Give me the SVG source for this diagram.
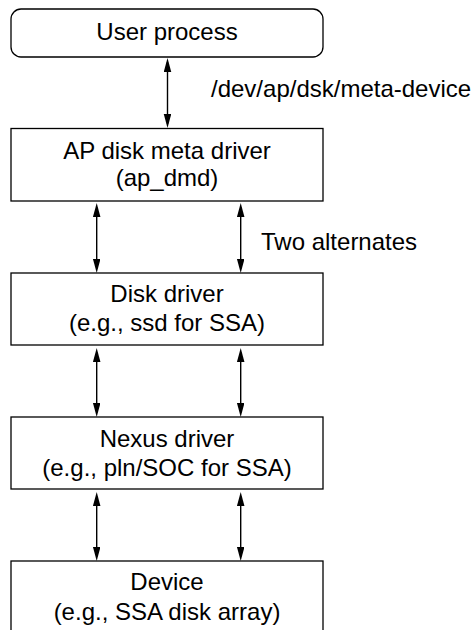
<svg xmlns="http://www.w3.org/2000/svg" width="474" height="630" viewBox="0 0 474 630">
  <style>
    .box { fill: #ffffff; stroke: #000000; stroke-width: 1.3; }
    .lbl { font-family: "Liberation Sans", Arial, Helvetica, sans-serif; font-size: 24px; fill: #000000; }
    .mid { text-anchor: middle; }
    .conn { stroke: #000000; stroke-width: 1.4; fill: none; marker-start: url(#head); marker-end: url(#head); }
  </style>
  <defs>
    <marker id="head" markerUnits="userSpaceOnUse" markerWidth="15" markerHeight="9" refX="10" refY="3.75" orient="auto-start-reverse">
      <path d="M0,0 L14,3.75 L0,7.5 z" fill="#000000"/>
    </marker>
  </defs>
  <rect width="474" height="630" fill="#ffffff"/>

  <!-- driver stack -->
  <g id="user-process">
    <rect class="box" x="11" y="9" width="312" height="48" rx="10" ry="10"/>
    <text class="lbl mid" x="167" y="40">User process</text>
  </g>
  <g id="ap-dmd">
    <rect class="box" x="11" y="128.5" width="312" height="72.5"/>
    <text class="lbl mid" x="167" y="159">AP disk meta driver</text>
    <text class="lbl mid" x="167" y="186">(ap_dmd)</text>
  </g>
  <g id="disk-driver">
    <rect class="box" x="11" y="273" width="312" height="72"/>
    <text class="lbl mid" x="167" y="302">Disk driver</text>
    <text class="lbl mid" x="167" y="331">(e.g., ssd for SSA)</text>
  </g>
  <g id="nexus-driver">
    <rect class="box" x="11" y="417" width="312" height="72"/>
    <text class="lbl mid" x="167" y="446.5">Nexus driver</text>
    <text class="lbl mid" x="167" y="476">(e.g., pln/SOC for SSA)</text>
  </g>
  <g id="device">
    <rect class="box" x="11" y="561" width="312" height="80"/>
    <text class="lbl mid" x="167" y="590">Device</text>
    <text class="lbl mid" x="167" y="620">(e.g., SSA disk array)</text>
  </g>

  <!-- bidirectional connectors -->
  <g id="connectors">
    <line class="conn" x1="167.5" y1="62" x2="167.5" y2="124"/>
    <line class="conn" x1="96.7" y1="207" x2="96.7" y2="269"/>
    <line class="conn" x1="240.7" y1="207" x2="240.7" y2="269"/>
    <line class="conn" x1="96.7" y1="352" x2="96.7" y2="413"/>
    <line class="conn" x1="240.7" y1="352" x2="240.7" y2="413"/>
    <line class="conn" x1="96.7" y1="496" x2="96.7" y2="557"/>
    <line class="conn" x1="240.7" y1="496" x2="240.7" y2="557"/>
  </g>

  <!-- connector labels -->
  <g id="labels">
    <text class="lbl" x="211" y="97">/dev/ap/dsk/meta-device</text>
    <text class="lbl" x="261" y="250">Two alternates</text>
  </g>
</svg>
